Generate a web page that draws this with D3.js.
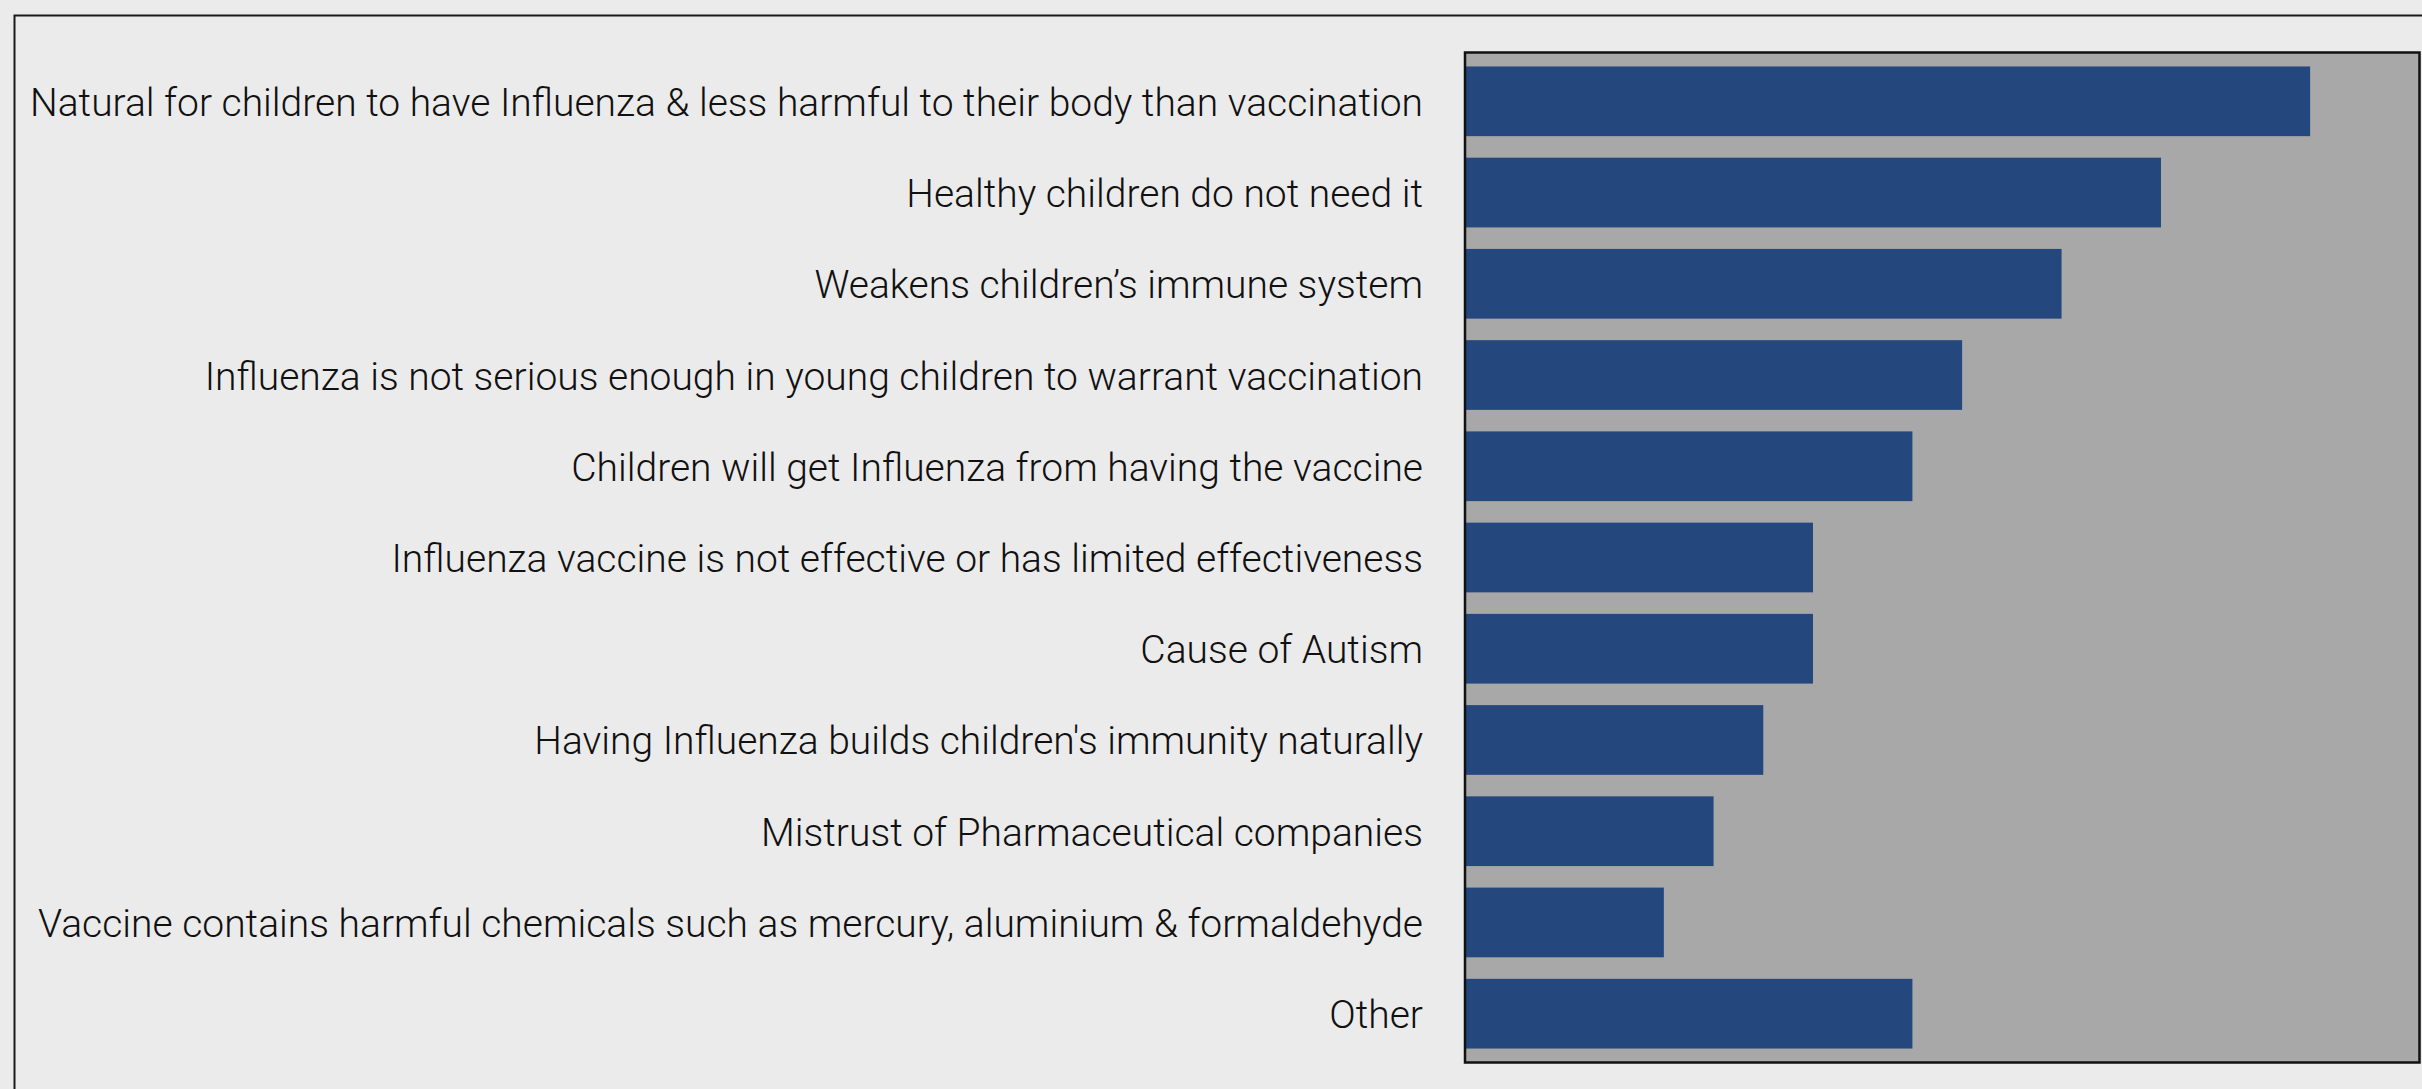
<!DOCTYPE html>
<html>
<head>
<meta charset="utf-8">
<script src="https://cdn.jsdelivr.net/npm/d3@7"></script>
<style>
  html, body { margin: 0; padding: 0; background: #ebebeb; }
  svg { display: block; }
</style>
</head>
<body>
<svg id="chart" width="2422" height="1089"></svg>
<script>
// Reasons given for not vaccinating children against influenza
const reasons = [
  "Natural for children to have Influenza & less harmful to their body than vaccination",
  "Healthy children do not need it",
  "Weakens children\u2019s immune system",
  "Influenza is not serious enough in young children to warrant vaccination",
  "Children will get Influenza from having the vaccine",
  "Influenza vaccine is not effective or has limited effectiveness",
  "Cause of Autism",
  "Having Influenza builds children's immunity naturally",
  "Mistrust of Pharmaceutical companies",
  "Vaccine contains harmful chemicals such as mercury, aluminium & formaldehyde",
  "Other"
];
const responses = [17, 14, 12, 10, 9, 7, 7, 6, 5, 4, 9];
const xMax = 19.2;

const svg = d3.select("#chart");
const W = 2422, H = 1089;

const plot = { left: 1465, top: 52.5, right: 2419.5, bottom: 1062.5 };

// outer frame (runs off the right and bottom edges)
svg.append("rect")
  .attr("x", 14.5).attr("y", 15.5)
  .attr("width", W + 20).attr("height", H + 20)
  .attr("fill", "#ebebeb")
  .attr("stroke", "#1a1a1a")
  .attr("stroke-width", 2);

const x = d3.scaleLinear().domain([0, xMax]).range([plot.left, plot.right]);
const y = d3.scaleBand()
  .domain(reasons)
  .range([plot.top, plot.bottom])
  .paddingInner(0.236)
  .paddingOuter(0.153);

// plot panel
svg.append("rect")
  .attr("x", plot.left).attr("y", plot.top)
  .attr("width", plot.right - plot.left)
  .attr("height", plot.bottom - plot.top)
  .attr("fill", "#a8a8a8");

svg.append("g")
  .selectAll("rect")
  .data(reasons.map((r, i) => ({ reason: r, value: responses[i] })))
  .join("rect")
  .attr("x", x(0))
  .attr("y", d => y(d.reason))
  .attr("width", d => x(d.value) - x(0))
  .attr("height", y.bandwidth())
  .attr("fill", "#24477d");

// panel border
svg.append("rect")
  .attr("x", plot.left).attr("y", plot.top)
  .attr("width", plot.right - plot.left)
  .attr("height", plot.bottom - plot.top)
  .attr("fill", "none")
  .attr("stroke", "#111")
  .attr("stroke-width", 2.5);

// category labels
const axis = svg.append("g")
  .attr("transform", `translate(${plot.left},0)`)
  .call(d3.axisLeft(y).tickSize(0).tickPadding(42));
axis.select(".domain").remove();
axis.selectAll("text")
  .attr("dy", null)
  .attr("y", 14.5)
  .attr("fill", "#111")
  .style("font-family", "Roboto, 'Liberation Sans', Arial, sans-serif")
  .style("font-weight", 300)
  .style("font-size", "39px");
</script>
</body>
</html>
